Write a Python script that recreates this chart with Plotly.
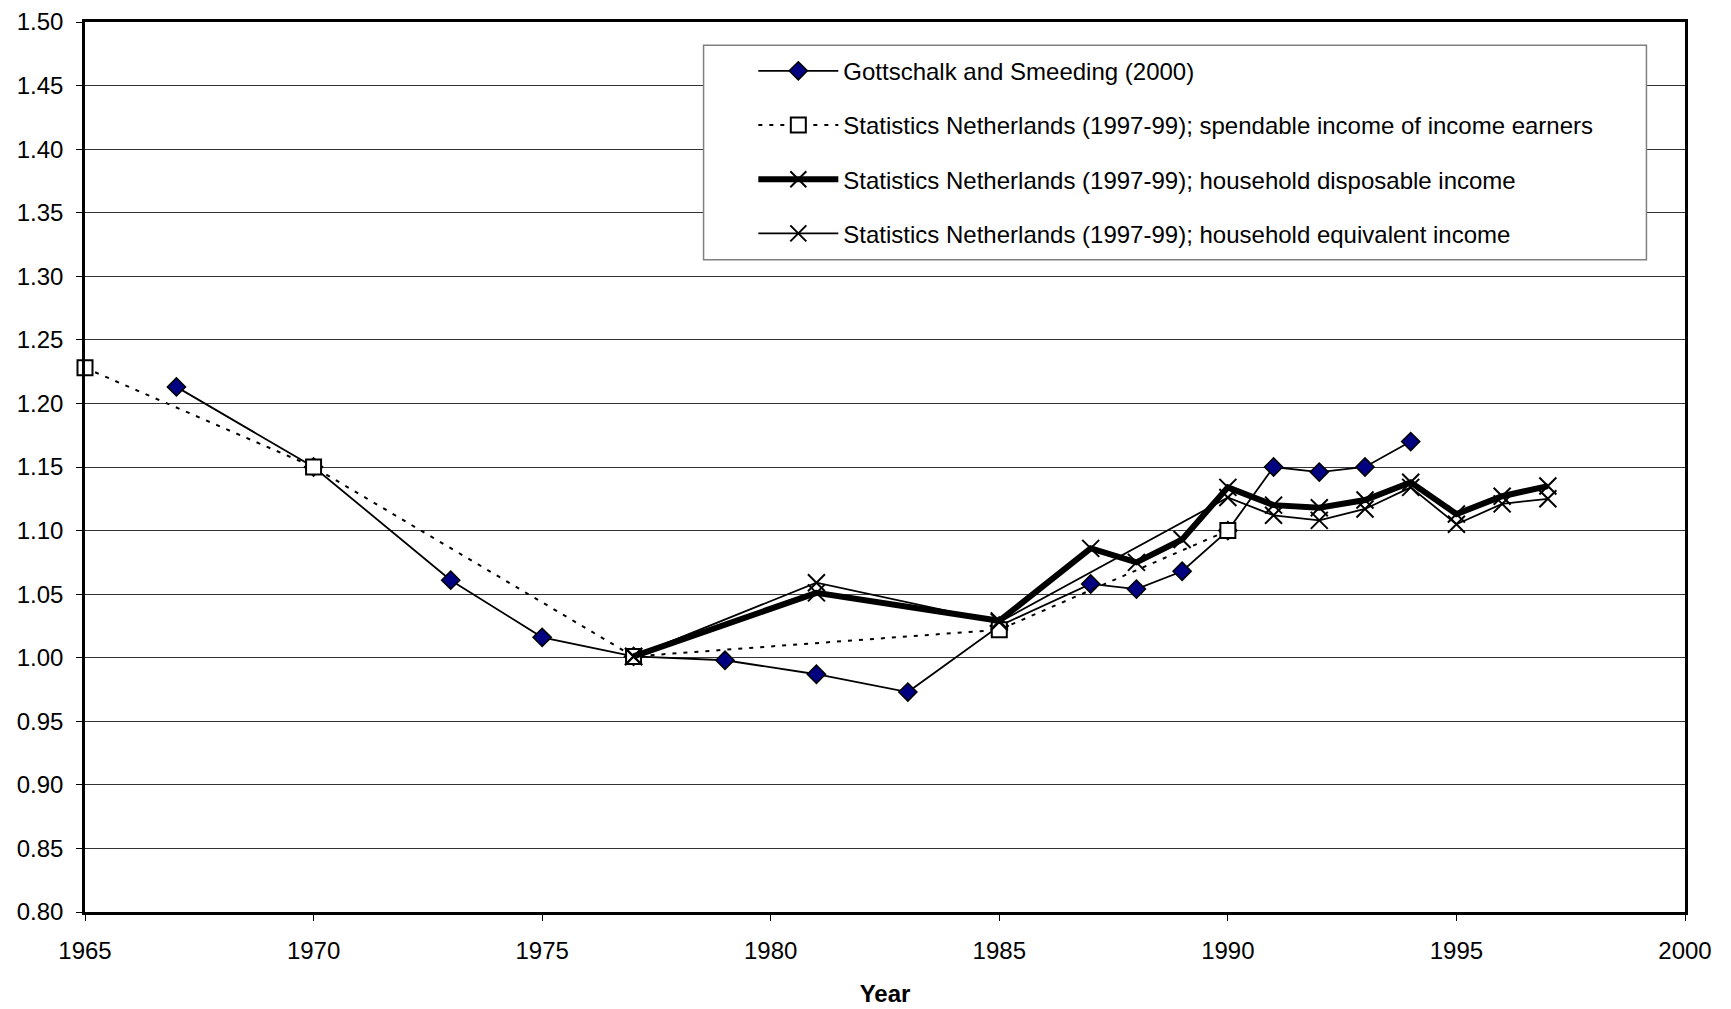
import plotly.graph_objects as go

# Gottschalk and Smeeding (2000)
gs_years = [1967, 1970, 1973, 1975, 1977, 1979, 1981, 1983, 1985, 1987, 1988, 1989, 1990, 1991, 1992, 1993, 1994]
gs_vals = [1.213, 1.150, 1.061, 1.016, 1.001, 0.998, 0.987, 0.973, 1.025, 1.058, 1.054, 1.068, 1.100, 1.150, 1.146, 1.150, 1.170]

# Statistics Netherlands; spendable income of income earners
sp_years = [1965, 1970, 1977, 1985, 1990]
sp_vals = [1.228, 1.150, 1.001, 1.022, 1.100]

# Statistics Netherlands; household disposable income
hd_years = [1977, 1981, 1985, 1987, 1988, 1989, 1990, 1991, 1992, 1993, 1994, 1995, 1996, 1997]
hd_vals = [1.001, 1.051, 1.029, 1.086, 1.075, 1.093, 1.134, 1.120, 1.118, 1.124, 1.138, 1.113, 1.127, 1.135]

# Statistics Netherlands; household equivalent income
he_years = [1977, 1981, 1985, 1990, 1991, 1992, 1993, 1994, 1995, 1996, 1997]
he_vals = [1.001, 1.059, 1.028, 1.126, 1.112, 1.108, 1.117, 1.134, 1.105, 1.121, 1.125]

names = [
    "Gottschalk and Smeeding (2000)",
    "Statistics Netherlands (1997-99); spendable income of income earners",
    "Statistics Netherlands (1997-99); household disposable income",
    "Statistics Netherlands (1997-99); household equivalent income",
]

y_ticks = [0.80, 0.85, 0.90, 0.95, 1.00, 1.05, 1.10, 1.15, 1.20, 1.25, 1.30, 1.35, 1.40, 1.45, 1.50]
x_ticks = [1965, 1970, 1975, 1980, 1985, 1990, 1995, 2000]

FONT = "Arial, Liberation Sans, sans-serif"

fig = go.Figure()
fig.add_trace(go.Scatter(
    x=gs_years, y=gs_vals, name=names[0], mode="lines+markers", legendgroup="a",
    line=dict(color="black", width=1.8),
    marker=dict(symbol="diamond", size=14, color="#000080", line=dict(color="black", width=1.5)),
    cliponaxis=False))
fig.add_trace(go.Scatter(
    x=sp_years, y=sp_vals, name=names[1], mode="lines+markers", legendgroup="b",
    line=dict(color="black", width=2, dash="4px,7px"),
    marker=dict(symbol="square", size=15, color="white", line=dict(color="black", width=2)),
    cliponaxis=False))
fig.add_trace(go.Scatter(
    x=hd_years, y=hd_vals, name=names[2], mode="lines+markers", legendgroup="c",
    line=dict(color="black", width=6),
    marker=dict(symbol="x-thin-open", size=17, color="black", line=dict(color="black", width=2)),
    cliponaxis=False))
fig.add_trace(go.Scatter(
    x=he_years, y=he_vals, name=names[3], mode="lines+markers", legendgroup="d",
    line=dict(color="black", width=1.8),
    marker=dict(symbol="x-thin-open", size=17, color="black", line=dict(color="black", width=2)),
    cliponaxis=False))

# legend frame (drawn as a box so the entries sit indented like the original)
fig.add_shape(type="rect", xref="paper", yref="paper",
              x0=0.3866, x1=0.9759, y0=0.733, y1=0.974,
              fillcolor="white", line=dict(color="#808080", width=1.5), layer="above")

fig.update_layout(
    width=1731, height=1009,
    margin=dict(l=77, r=54, t=14, b=105),
    paper_bgcolor="white", plot_bgcolor="white",
    font=dict(family=FONT, size=24, color="black"),
    showlegend=True,
    legend=dict(
        x=0.4177, y=0.970, xanchor="left", yanchor="top",
        bgcolor="rgba(0,0,0,0)", borderwidth=0,
        font=dict(family=FONT, size=24),
        traceorder="grouped", tracegroupgap=20, itemwidth=80,
    ),
)
fig.update_xaxes(
    range=[1965, 2000], tickvals=x_ticks, automargin=False,
    showgrid=False, zeroline=False,
    showline=True, linecolor="black", linewidth=2.5, mirror=True,
    ticks="outside", ticklen=6, tickcolor="black", ticklabelstandoff=9,
    ticklabeloverflow="allow",
    title=dict(text="<b>Year</b>", font=dict(family=FONT, size=24), standoff=23),
)
fig.update_yaxes(
    range=[0.80, 1.50], tickvals=y_ticks, ticktext=[f"{v:.2f}" for v in y_ticks],
    automargin=False,
    showgrid=True, gridcolor="#333333", gridwidth=1, zeroline=False,
    showline=True, linecolor="black", linewidth=2.5, mirror=True,
    ticks="outside", ticklen=6, tickcolor="black", ticklabelstandoff=8,
    ticklabeloverflow="allow",
)

fig.write_html("out.html")
